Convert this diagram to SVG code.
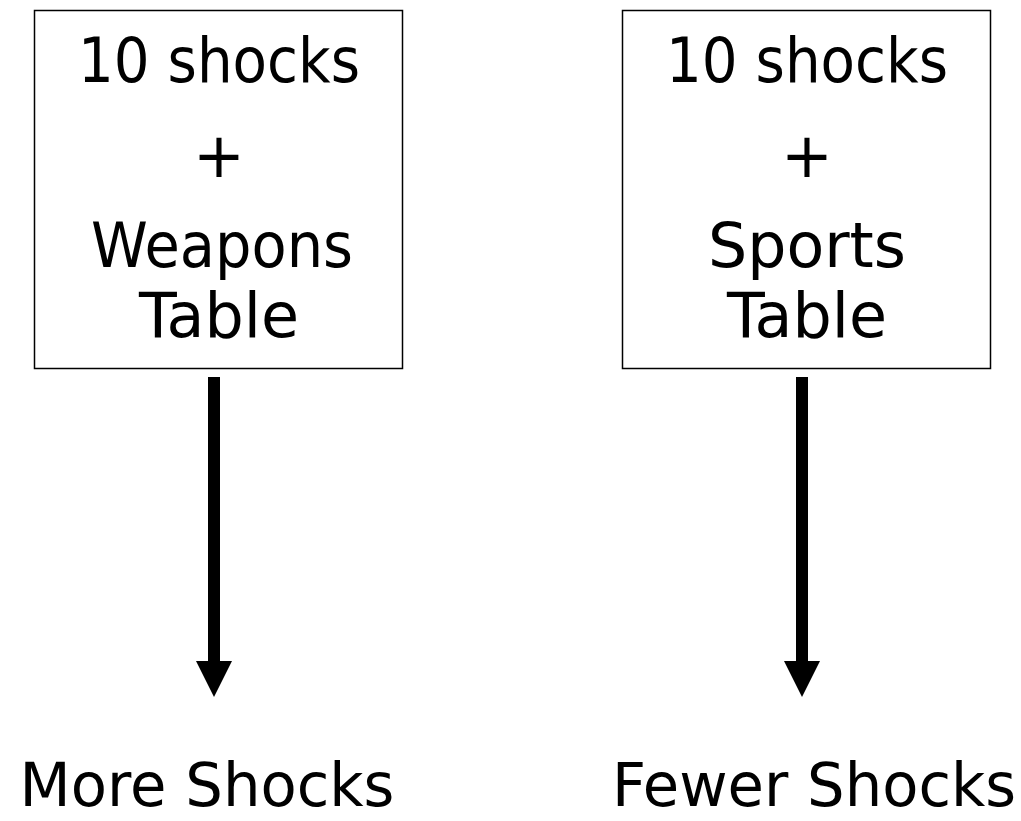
<svg xmlns="http://www.w3.org/2000/svg" width="1021" height="821" viewBox="0 0 1021 821">
  <style>
    .box { fill: #ffffff; stroke: #000000; stroke-width: 1.5; }
    .lbl { font-family: "DejaVu Sans", "Liberation Sans", sans-serif; font-size: 62px; fill: #000000; text-anchor: middle; }
    .out { font-size: 60px; }
    .arrow { fill: #000000; }
  </style>
  <rect width="1021" height="821" fill="#ffffff"/>

  <g id="weapons-condition">
    <rect class="box" x="34.5" y="10.5" width="368" height="358"/>
    <text class="lbl" x="219" y="82" textLength="282" lengthAdjust="spacingAndGlyphs">10 shocks</text>
    <text class="lbl" x="219" y="177">+</text>
    <text class="lbl" x="222" y="267" textLength="262" lengthAdjust="spacingAndGlyphs">Weapons</text>
    <text class="lbl" x="219" y="337" textLength="160" lengthAdjust="spacingAndGlyphs">Table</text>
  </g>

  <g id="sports-condition">
    <rect class="box" x="622.5" y="10.5" width="368" height="358"/>
    <text class="lbl" x="807" y="82" textLength="282" lengthAdjust="spacingAndGlyphs">10 shocks</text>
    <text class="lbl" x="807" y="177">+</text>
    <text class="lbl" x="807" y="267" textLength="198" lengthAdjust="spacingAndGlyphs">Sports</text>
    <text class="lbl" x="807" y="337" textLength="160" lengthAdjust="spacingAndGlyphs">Table</text>
  </g>

  <g id="more-shocks">
    <text class="lbl out" x="207" y="806" textLength="375" lengthAdjust="spacingAndGlyphs">More Shocks</text>
  </g>

  <g id="fewer-shocks">
    <text class="lbl out" x="814" y="806" textLength="404" lengthAdjust="spacingAndGlyphs">Fewer Shocks</text>
  </g>

  <g id="connectors">
    <path class="arrow" d="M208 377 H220 V661 H232 L214 697 L196 661 H208 Z"/>
    <path class="arrow" d="M796 377 H808 V661 H820 L802 697 L784 661 H796 Z"/>
  </g>
</svg>
